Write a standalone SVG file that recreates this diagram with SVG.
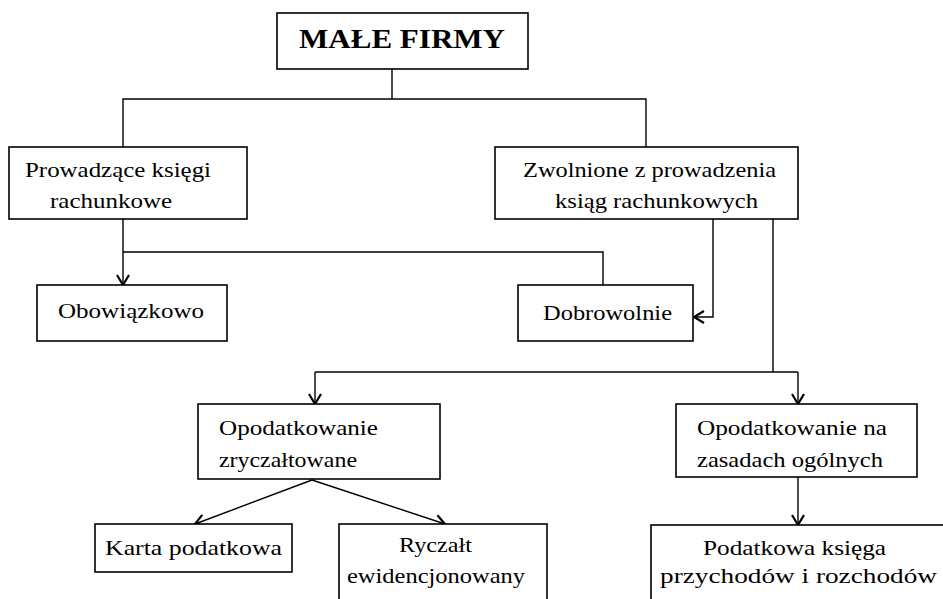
<svg xmlns="http://www.w3.org/2000/svg" width="943" height="599" viewBox="0 0 943 599">
<defs>
<marker id="ah" markerUnits="userSpaceOnUse" markerWidth="16" markerHeight="16" viewBox="0 0 16 16" refX="14" refY="8" orient="auto">
<path d="M4,2 L14,8 L4,14" fill="none" stroke="#000" stroke-width="2.2"/>
</marker>
</defs>
<style>
.box{fill:#fff;stroke:#000;stroke-width:1.6}
text{font-family:"Liberation Serif","Times New Roman",serif;font-size:22px;fill:#000}
.t{font-weight:bold;font-size:27px}
#connectors path{fill:none;stroke:#000;stroke-width:1.4}
.a{marker-end:url(#ah)}
</style>
<rect width="943" height="599" fill="#fff"/>
<g id="connectors">
<path d="M392,69 V99"/>
<path d="M123,147 V99 H646 V147"/>
<path class="a" d="M123,219 V285"/>
<path d="M123,252 H603 V285"/>
<path class="a" d="M713,219 V317 H694"/>
<path d="M773,219 V372"/>
<path d="M315,372 H798"/>
<path class="a" d="M315,372 V404"/>
<path class="a" d="M798,372 V404"/>
<path class="a" d="M312,480 L195,524"/>
<path class="a" d="M312,480 L445,524"/>
<path class="a" d="M798,477 V525"/>
</g>
<g id="n-male">
<rect class="box" x="277" y="13" width="251" height="56"/>
<text class="t" x="299" y="48" textLength="206" lengthAdjust="spacingAndGlyphs">MAŁE FIRMY</text>
</g>
<g id="n-prowadzace">
<rect class="box" x="9" y="147" width="238" height="72"/>
<text x="25" y="177" textLength="186" lengthAdjust="spacingAndGlyphs">Prowadzące księgi</text>
<text x="50" y="208" textLength="122" lengthAdjust="spacingAndGlyphs">rachunkowe</text>
</g>
<g id="n-zwolnione">
<rect class="box" x="495" y="147" width="303" height="72"/>
<text x="523" y="177" textLength="253" lengthAdjust="spacingAndGlyphs">Zwolnione z prowadzenia</text>
<text x="555" y="208" textLength="203" lengthAdjust="spacingAndGlyphs">ksiąg rachunkowych</text>
</g>
<g id="n-obowiazkowo">
<rect class="box" x="37" y="285" width="190" height="56"/>
<text x="58" y="318" textLength="146" lengthAdjust="spacingAndGlyphs">Obowiązkowo</text>
</g>
<g id="n-dobrowolnie">
<rect class="box" x="518" y="285" width="175" height="56"/>
<text x="543" y="320" textLength="129" lengthAdjust="spacingAndGlyphs">Dobrowolnie</text>
</g>
<g id="n-zryczaltowane">
<rect class="box" x="198" y="404" width="242" height="75"/>
<text x="219" y="435" textLength="159" lengthAdjust="spacingAndGlyphs">Opodatkowanie</text>
<text x="219" y="467" textLength="138" lengthAdjust="spacingAndGlyphs">zryczałtowane</text>
</g>
<g id="n-ogolne">
<rect class="box" x="676" y="404" width="241" height="73"/>
<text x="697" y="435" textLength="190" lengthAdjust="spacingAndGlyphs">Opodatkowanie na</text>
<text x="697" y="467" textLength="186" lengthAdjust="spacingAndGlyphs">zasadach ogólnych</text>
</g>
<g id="n-karta">
<rect class="box" x="95" y="524" width="197" height="48"/>
<text x="105" y="555" textLength="177" lengthAdjust="spacingAndGlyphs">Karta podatkowa</text>
</g>
<g id="n-ryczalt">
<rect class="box" x="339" y="524" width="208" height="90"/>
<text x="399" y="552" textLength="73" lengthAdjust="spacingAndGlyphs">Ryczałt</text>
<text x="347" y="583" textLength="178" lengthAdjust="spacingAndGlyphs">ewidencjonowany</text>
</g>
<g id="n-podatkowa">
<rect class="box" x="651" y="525" width="300" height="90"/>
<text x="703" y="555" textLength="183" lengthAdjust="spacingAndGlyphs">Podatkowa księga</text>
<text x="660" y="583" textLength="277" lengthAdjust="spacingAndGlyphs">przychodów i rozchodów</text>
</g>
</svg>
